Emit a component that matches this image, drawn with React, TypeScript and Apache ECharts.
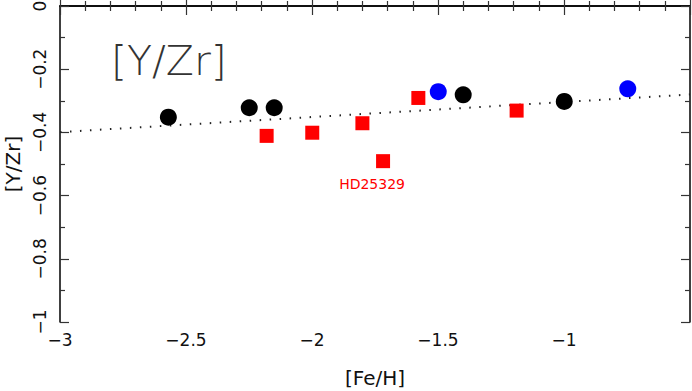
import React, { useEffect, useRef } from "react";
import * as echarts from "echarts";

const blackStars: [number, number][] = [
  [-2.57, -0.352],
  [-2.249, -0.322],
  [-2.15, -0.322],
  [-1.4, -0.281],
  [-0.999, -0.302],
];
const blueStars: [number, number][] = [
  [-1.499, -0.271],
  [-0.747, -0.262],
];
const redStars: [number, number][] = [
  [-2.18, -0.411],
  [-1.999, -0.401],
  [-1.8, -0.371],
  [-1.718, -0.491],
  [-1.578, -0.291],
  [-1.188, -0.331],
];
const labelledStarIndex = 3;
const labelledStarName = "HD25329";
const fitLine: [number, number][] = [
  [-3, -0.399],
  [-0.5, -0.28],
];
const xRange = { min: -3, max: -0.5, interval: 0.5 };
const yRange = { min: -1, max: 0, interval: 0.2 };
const titleText = "[Y/Zr]";
const xName = "[Fe/H]";
const yName = "[Y/Zr]";

const FONT = "DejaVu Sans";

const fmt = (v: number) => {
  const r = Math.round(v * 100) / 100;
  return String(r).replace("-", "\u2212");
};

export default function App() {
  const ref = useRef<HTMLDivElement>(null);
  useEffect(() => {
    if (!ref.current) return;
    const chart = echarts.init(ref.current, undefined, { renderer: "svg" });
    const axisLine = { show: true, lineStyle: { color: "#000", width: 1.5 } };
    const tick = { show: true, inside: true, length: 9, lineStyle: { color: "#333", width: 1.2 } };
    const minor = (n: number) => ({
      show: true,
      splitNumber: n,
      length: 5,
      lineStyle: { color: "#333", width: 1.2 },
    });
    const redData = redStars.map((p, i) =>
      i === labelledStarIndex
        ? {
            value: p,
            label: {
              show: true,
              position: "bottom",
              distance: 9,
              offset: [-11, 0],
              formatter: labelledStarName,
              color: "#ff0000",
              fontSize: 14,
              fontFamily: FONT,
            },
          }
        : { value: p }
    );
    chart.setOption({
      animation: false,
      backgroundColor: "#fff",
      grid: {
        left: 60,
        right: 2,
        top: 6,
        bottom: 69,
        containLabel: false,
        outerBoundsMode: "none",
      },
      xAxis: [
        {
          type: "value",
          position: "bottom",
          ...xRange,
          axisLine,
          axisTick: tick,
          minorTick: minor(5),
          splitLine: { show: false },
          axisLabel: {
            fontSize: 17,
            fontFamily: FONT,
            color: "#111",
            margin: 9,
            formatter: (v: number) => (Math.abs(v - xRange.max) < 1e-9 ? "" : fmt(v)),
          },
          name: xName,
          nameLocation: "middle",
          nameGap: 46,
          nameTextStyle: { fontSize: 20, fontFamily: FONT, color: "#111" },
        },
        {
          type: "value",
          position: "top",
          ...xRange,
          axisLine,
          axisTick: tick,
          minorTick: minor(5),
          splitLine: { show: false },
          axisLabel: { show: false },
        },
      ],
      yAxis: [
        {
          type: "value",
          position: "left",
          ...yRange,
          axisLine,
          axisTick: tick,
          minorTick: minor(2),
          splitLine: { show: false },
          axisLabel: {
            rotate: 90,
            fontSize: 17,
            fontFamily: FONT,
            color: "#111",
            margin: 12,
            formatter: (v: number) => fmt(v),
          },
          name: yName,
          nameLocation: "middle",
          nameGap: 35,
          nameTextStyle: { fontSize: 20, fontFamily: FONT, color: "#111" },
        },
        {
          type: "value",
          position: "right",
          ...yRange,
          axisLine,
          axisTick: tick,
          minorTick: minor(2),
          splitLine: { show: false },
          axisLabel: { show: false },
        },
      ],
      graphic: [
        {
          type: "text",
          left: 111,
          top: 40,
          style: {
            text: titleText,
            fontSize: 41,
            fontFamily: FONT,
            fontWeight: 200,
            fill: "#333",
          },
        },
      ],
      series: [
        {
          type: "line",
          data: fitLine,
          symbol: "none",
          z: 1,
          lineStyle: { color: "#222", width: 2, type: [1.5, 8.5] },
        },
        {
          type: "scatter",
          data: blackStars,
          symbol: "circle",
          symbolSize: 17,
          itemStyle: { color: "#000", opacity: 1 },
          z: 3,
        },
        {
          type: "scatter",
          data: blueStars,
          symbol: "circle",
          symbolSize: 17,
          itemStyle: { color: "#0000ff", opacity: 1 },
          z: 3,
        },
        {
          type: "scatter",
          data: redData,
          symbol: "rect",
          symbolSize: 14,
          itemStyle: { color: "#ff0000", opacity: 1 },
          z: 3,
        },
      ],
    });
    return () => chart.dispose();
  }, []);
  return <div ref={ref} style={{ width: 692, height: 391, position: "absolute", left: 0, top: 0 }} />;
}
